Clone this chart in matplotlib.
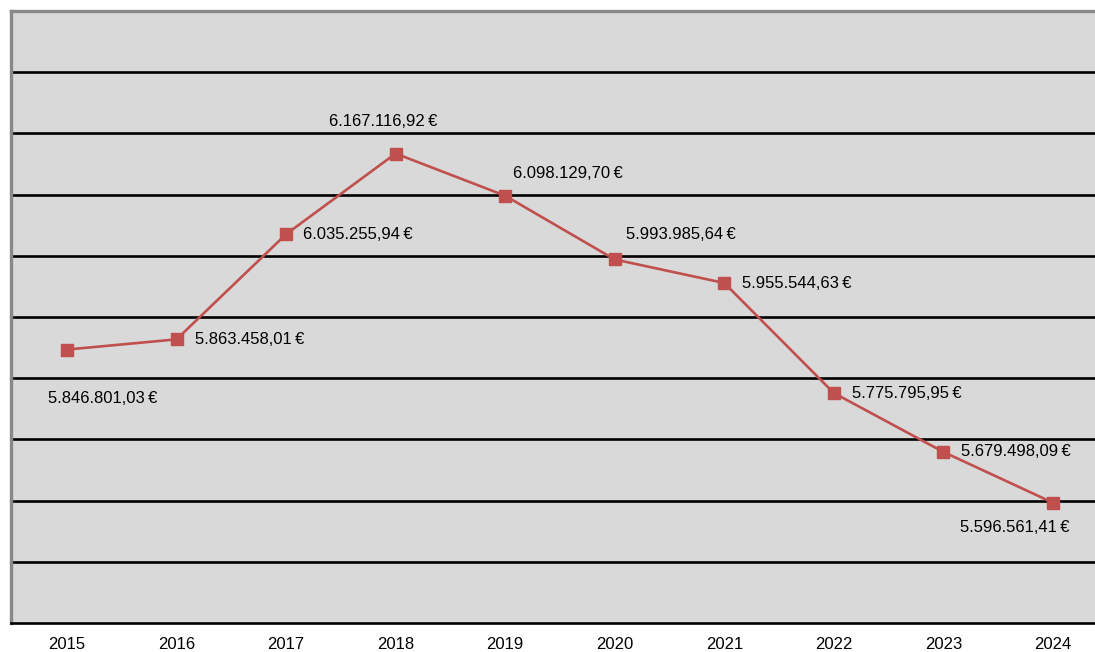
import matplotlib.pyplot as plt

plt.rcParams['font.family'] = ['Liberation Sans', 'DejaVu Sans']

YEARS = ["2015", "2016", "2017", "2018", "2019", "2020", "2021", "2022", "2023", "2024"]
VALUES = [5846801.03, 5863458.01, 6035255.94, 6167116.92, 6098129.70,
          5993985.64, 5955544.63, 5775795.95, 5679498.09, 5596561.41]

# label offsets in pixels (dx, dy, ha)
LABEL_POS = [(36, -49, "center"), (18, 0, "left"), (17, 0, "left"),
             (-12, 32, "center"), (8, 22, "left"), (11, 25, "left"),
             (18, 0, "left"), (18, 0, "left"), (18, 0, "left"),
             (-38, -25, "center")]


def euro(v: float) -> str:
    s = f"{v:,.2f}"
    s = s.replace(",", "X").replace(".", ",").replace("X", ".")
    return s + "\u2009€"


fig = plt.figure(figsize=(10.95, 6.52), dpi=100)
ax = fig.add_axes([11 / 1095, 29 / 652, 1 - 11 / 1095, 612 / 652])
ax.set_facecolor("#d9d9d9")

x = list(range(len(YEARS)))
ax.set_xlim(-0.511, 9.384)
ax.set_ylim(5400000, 6400000)

for yv in range(5500000, 6400000, 100000):
    ax.axhline(yv, color="black", lw=1.9, zorder=1)

ax.plot(x, VALUES, color="#c0504d", lw=1.9, marker="s", markersize=9.3,
        markerfacecolor="#c0504d", markeredgecolor="#c0504d", zorder=3)

for xi, v, (dx, dy, ha) in zip(x, VALUES, LABEL_POS):
    ax.annotate(euro(v), (xi, v), xytext=(dx, dy), textcoords="offset pixels",
                ha=ha, va="center", fontsize=12, color="black")

ax.set_xticks(x)
ax.set_xticklabels(YEARS, fontsize=12)
ax.tick_params(axis="x", length=0, pad=10)
ax.set_yticks([])

ax.spines["right"].set_visible(False)
ax.spines["left"].set_color("#888888")
ax.spines["left"].set_linewidth(2.4)
ax.spines["top"].set_color("#888888")
ax.spines["top"].set_linewidth(2.4)
ax.spines["bottom"].set_color("black")
ax.spines["bottom"].set_linewidth(1.9)

fig.savefig("out.png", dpi=100)
